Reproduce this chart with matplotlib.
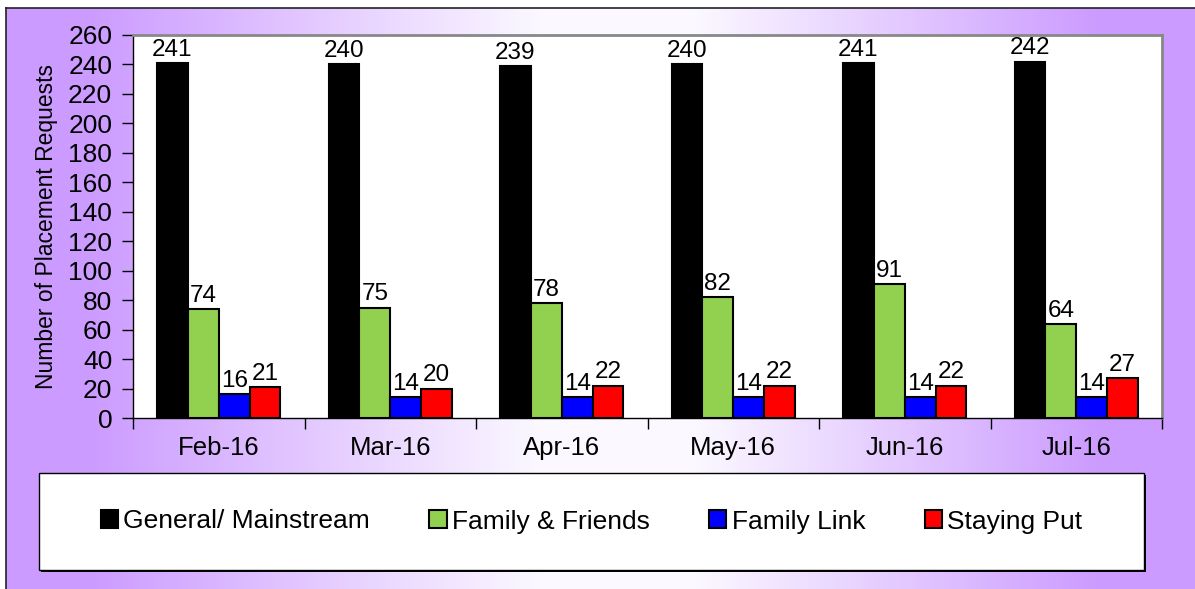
import numpy as np
import matplotlib
matplotlib.use("Agg")
import matplotlib.pyplot as plt
from matplotlib.patches import Rectangle
from matplotlib.colors import LinearSegmentedColormap

plt.rcParams['font.family'] = ['Liberation Sans', 'DejaVu Sans']

months = ["Feb-16", "Mar-16", "Apr-16", "May-16", "Jun-16", "Jul-16"]
series_names = ["General/ Mainstream", "Family & Friends", "Family Link", "Staying Put"]
general = [241, 240, 239, 240, 241, 242]
family_friends = [74, 75, 78, 82, 91, 64]
family_link = [16, 14, 14, 14, 14, 14]
staying_put = [21, 20, 22, 22, 22, 27]
colors = ["#000000", "#92D050", "#0000FF", "#FF0000"]
yticks = list(range(0, 261, 20))

W, H = 1195, 589
fig = plt.figure(figsize=(W / 100, H / 100), dpi=100)
fig.patch.set_facecolor("white")

# background gradient panel
bg = fig.add_axes([6 / W, 0, 1 - 6 / W, 1 - 8 / H], zorder=-10)
purple = (0.80, 0.61, 1.0)
white = (0.985, 0.975, 1.0)
cmap = LinearSegmentedColormap.from_list(
    "g", [(0, purple), (0.07, purple), (0.45, white), (0.58, white), (0.92, purple), (1, purple)])
grad = np.linspace(0, 1, 600).reshape(1, -1)
bg.imshow(grad, aspect="auto", cmap=cmap, extent=[0, 1, 0, 1])
bg.set_xlim(0, 1); bg.set_ylim(0, 1)
bg.set_xticks([]); bg.set_yticks([])
for s in ["right", "bottom"]:
    bg.spines[s].set_visible(False)
for s in ["left", "top"]:
    bg.spines[s].set_color("#222222")
    bg.spines[s].set_linewidth(1.2)

# legend box with shadow
lx0, lx1, ly0, ly1 = 39, 1144, 473, 570
fig.patches.append(Rectangle(((lx0 + 2) / W, 1 - (ly1 + 2) / H), (lx1 - lx0) / W, (ly1 - ly0) / H,
                             transform=fig.transFigure, facecolor="black", edgecolor="none", zorder=1))
fig.patches.append(Rectangle((lx0 / W, 1 - ly1 / H), (lx1 - lx0) / W, (ly1 - ly0) / H,
                             transform=fig.transFigure, facecolor="white", edgecolor="black",
                             linewidth=1.0, zorder=2))

ax = fig.add_axes([133 / W, 1 - 418 / H, (1162 - 133) / W, (418 - 35) / H], zorder=5)
ax.set_facecolor("white")

x = np.arange(len(months))
w = 0.18
data = [general, family_friends, family_link, staying_put]
handles = []
for i, (vals, c, name) in enumerate(zip(data, colors, series_names)):
    offs = (i - 1.5) * w
    ax.bar(x + offs, vals, width=w, color=c, edgecolor="black", linewidth=1.5, label=name, zorder=3)
    handles.append(Rectangle((0, 0), 1, 1, facecolor=c, edgecolor="black", linewidth=1.5))
    for xi, v in zip(x, vals):
        ax.text(xi + offs, v + 1.5, str(v), ha="center", va="bottom", fontsize=17.5, zorder=4)

ax.set_xlim(-0.5, len(months) - 0.5)
ax.set_ylim(0, 260)
ax.set_yticks(yticks)
ax.tick_params(axis="y", labelsize=19, length=8, width=1, direction="out", pad=7)
ax.set_xticks(x)
ax.set_xticklabels(months, fontsize=18.5)
ax.tick_params(axis="x", which="major", length=0, pad=13)
ax.set_xticks(np.arange(-0.5, len(months), 1.0), minor=True)
ax.tick_params(axis="x", which="minor", length=8, width=1, direction="out")
ax.set_ylabel("Number of Placement Requests", fontsize=16.5)
ax.yaxis.set_label_coords((58 - 133) / (1162 - 133), 0.5)

ax.spines["left"].set_color("black")
ax.spines["bottom"].set_color("black")
ax.spines["left"].set_linewidth(1.0)
ax.spines["bottom"].set_linewidth(1.0)
for s in ["top", "right"]:
    ax.spines[s].set_color("#888888")
    ax.spines[s].set_linewidth(2.0)

leg = fig.legend(handles=handles, labels=series_names, loc="center",
                 bbox_to_anchor=((lx0 + lx1) / 2 / W, 1 - (ly0 + ly1) / 2 / H),
                 ncol=4, frameon=False, fontsize=19, handlelength=0.65, handleheight=0.65,
                 handletextpad=0.2, columnspacing=2.25)
leg.set_zorder(10)

fig.savefig("out.png", dpi=100, facecolor=fig.get_facecolor())
